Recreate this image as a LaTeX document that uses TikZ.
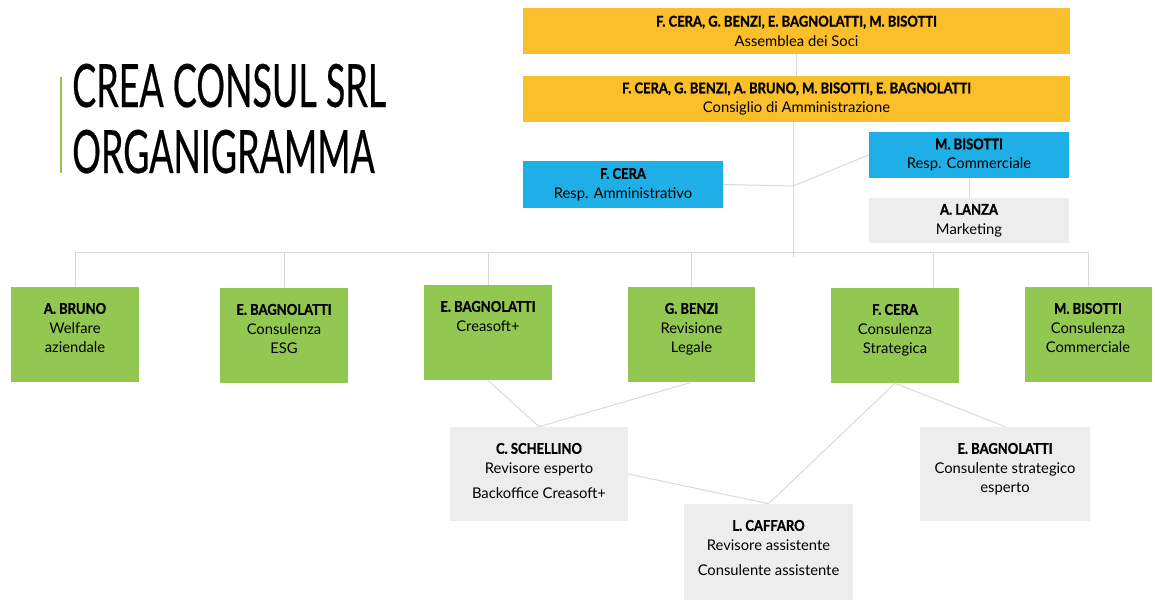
\documentclass[tikz,border=0pt]{standalone}
\usepackage{fontspec}
\setmainfont{Lato}
\newfontfamily\namefont[FakeStretch=0.88, FakeBold=1]{Lato}
\newfontfamily\titlefont[FakeStretch=0.6, FakeBold=0.4]{Lato}
\definecolor{goldbg}{RGB}{251,191,43}
\definecolor{bluebg}{RGB}{29,175,229}
\definecolor{greenbg}{RGB}{146,200,81}
\definecolor{graybg}{RGB}{237,237,237}
\definecolor{linegray}{RGB}{217,217,217}
\newcommand{\nm}[1]{{\namefont\bfseries #1}}

\begin{document}
\begin{tikzpicture}[x=0.025cm, y=-0.025cm,
    every node/.style={font=\fontsize{10.5}{13.9}\selectfont, align=center, inner sep=0pt},
    link/.style={draw=linegray, line width=0.7pt},
    topbox/.style={fill=goldbg, minimum width=13.675cm, minimum height=1.15cm},
    rolebox/.style={fill=bluebg, minimum width=5cm, minimum height=1.15cm},
    unitbox/.style={fill=greenbg, minimum width=3.175cm, minimum height=2.375cm},
    staffbox/.style={fill=graybg, minimum height=2.35cm}]
  \useasboundingbox (0,0) rectangle (1155,604);
  % Title with green bar
  \fill[greenbg] (60,77) rectangle (62,173);
  \node[anchor=base west, font=\titlefont\fontsize{42.5}{47}\selectfont] (title1) at (72,107) {CREA CONSUL SRL};
  \node[anchor=base west, font=\titlefont\fontsize{42.5}{47}\selectfont] (title2) at (72,173) {ORGANIGRAMMA};
  % Assemblea and Consiglio
  \node[topbox] (soci) at (796.5,31) {\nm{F. CERA, G. BENZI, E. BAGNOLATTI, M. BISOTTI}\\Assemblea dei Soci};
  \node[topbox] (cda) at (796.5,99) {\nm{F. CERA, G. BENZI, A. BRUNO, M. BISOTTI, E. BAGNOLATTI}\\Consiglio di Amministrazione};
  % Responsabili
  \node[rolebox] (amm) at (623,184.5) {\nm{F. CERA}\\Resp. Amministrativo};
  \node[rolebox] (comm) at (969,155) {\nm{M. BISOTTI}\\Resp. Commerciale};
  \node[fill=graybg, minimum width=5cm, minimum height=1.125cm] (lanza) at (969,220.5) {\nm{A. LANZA}\\Marketing};
  % Aree (green)
  \node[unitbox] (bruno) at (75,334.5) {};
  \node[unitbox] (esg) at (284,335.5) {};
  \node[unitbox] (creasoft) at (488,332.5) {};
  \node[unitbox] (benzi) at (691.5,334.5) {};
  \node[unitbox] (cera) at (895,335.5) {};
  \node[unitbox] (bisotti) at (1088,334.5) {};
  \node[anchor=north] (bruno-t) at ([yshift=-0.4cm]bruno.north) {\nm{A. BRUNO}\\Welfare\\aziendale};
  \node[anchor=north] (esg-t) at ([yshift=-0.4cm]esg.north) {\nm{E. BAGNOLATTI}\\Consulenza\\ESG};
  \node[anchor=north] (creasoft-t) at ([yshift=-0.4cm]creasoft.north) {\nm{E. BAGNOLATTI}\\Creasoft+};
  \node[anchor=north] (benzi-t) at ([yshift=-0.4cm]benzi.north) {\nm{G. BENZI}\\Revisione\\Legale};
  \node[anchor=north] (cera-t) at ([yshift=-0.4cm]cera.north) {\nm{F. CERA}\\Consulenza\\Strategica};
  \node[anchor=north] (bisotti-t) at ([yshift=-0.4cm]bisotti.north) {\nm{M. BISOTTI}\\Consulenza\\Commerciale};
  % Staff (gray)
  \node[staffbox, minimum width=4.45cm] (schellino) at (539,474) {};
  \node[staffbox, minimum width=4.225cm, minimum height=2.4cm] (caffaro) at (768.5,552) {};
  \node[staffbox, minimum width=4.25cm] (bagnolatti) at (1005,474) {};
  \node[anchor=north] (schellino-t) at ([yshift=-0.4cm]schellino.north) {\nm{C. SCHELLINO}\\Revisore esperto\\[4pt]Backoffice Creasoft+};
  \node[anchor=north] (caffaro-t) at ([yshift=-0.4cm]caffaro.north) {\nm{L. CAFFARO}\\Revisore assistente\\[4pt]Consulente assistente};
  \node[anchor=north] (bagnolatti-t) at ([yshift=-0.4cm]bagnolatti.north) {\nm{E. BAGNOLATTI}\\Consulente strategico\\esperto};
  % Connectors
  \coordinate (hub) at (793,186);
  \coordinate (spine) at (793,257);
  \coordinate (bus) at (75,252);
  \draw[link] (soci.south) -- (cda.north);
  \draw[link] (cda.south -| spine) -- (spine);
  \draw[link] (amm.east) -- (hub) -- (comm.west);
  \draw[link] (comm.south) -- (lanza.north);
  \draw[link] (bus) -- (bisotti.north |- bus);
  \foreach \u in {bruno,esg,creasoft,benzi,bisotti}
    \draw[link] (\u.north) -- (\u.north |- bus);
  \draw[link] ([xshift=0.95cm]cera.north) -- ([xshift=0.95cm]cera.north |- bus);
  \draw[link] (creasoft.south) -- (schellino.north);
  \draw[link] (benzi.south) -- (schellino.north);
  \draw[link] (schellino.east) -- (caffaro.north);
  \draw[link] (cera.south) -- (caffaro.north);
  \draw[link] (cera.south) -- (bagnolatti.north);
\end{tikzpicture}
\end{document}
